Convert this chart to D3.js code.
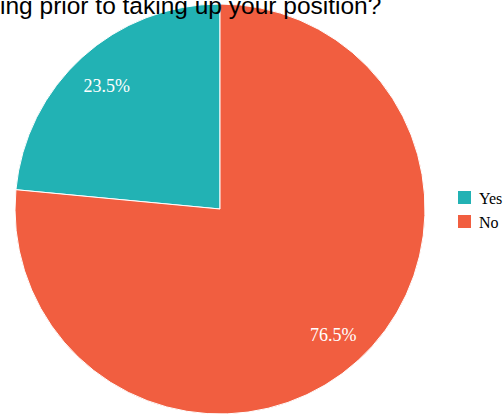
<!DOCTYPE html>
<html>
<head>
<meta charset="utf-8">
<script src="https://cdn.jsdelivr.net/npm/d3@7"></script>
<style>
  html, body { margin: 0; padding: 0; background: #fff; overflow: hidden; }
</style>
</head>
<body>
<svg id="chart" width="503" height="414"></svg>
<script>
const categories = ["Yes", "No"];
const values = [23.5, 76.5];
const titleText = "ing prior to taking up your position?";

const svg = d3.select("#chart");
const cx = 220, cy = 209, radius = 205;

const color = d3.scaleOrdinal()
    .domain(categories)
    .range(["#22b2b4", "#f15e40"]);

const data = categories.map((c, i) => ({ name: c, value: values[i] }));

// counter-clockwise from 12 o'clock, like the original
const pie = d3.pie()
    .sort(null)
    .value(d => d.value)
    .startAngle(0)
    .endAngle(-2 * Math.PI);

const arc = d3.arc().innerRadius(0).outerRadius(radius);
const labelArc = d3.arc().innerRadius(radius * 0.82).outerRadius(radius * 0.82);

const g = svg.append("g").attr("transform", `translate(${cx},${cy})`);

g.selectAll("path")
    .data(pie(data))
    .enter()
    .append("path")
    .attr("d", arc)
    .attr("fill", d => color(d.data.name))
    .attr("stroke", "#fff")
    .attr("stroke-width", 1);

g.selectAll("text")
    .data(pie(data))
    .enter()
    .append("text")
    .attr("transform", d => `translate(${labelArc.centroid(d)})`)
    .attr("dy", "0.4em")
    .attr("text-anchor", "middle")
    .attr("fill", "#fff")
    .style("font-family", "'Liberation Serif', 'DejaVu Serif', serif")
    .style("font-size", "18px")
    .text(d => d.data.value.toFixed(1) + "%");

// legend
const legend = svg.append("g").attr("transform", "translate(458,191)");
const item = legend.selectAll("g")
    .data(categories)
    .enter()
    .append("g")
    .attr("transform", (d, i) => `translate(0,${i * 24})`);

item.append("rect")
    .attr("width", 13)
    .attr("height", 13)
    .attr("fill", d => color(d));

item.append("text")
    .attr("x", 21)
    .attr("y", 7)
    .attr("dy", "0.35em")
    .style("font-family", "'Liberation Serif', 'DejaVu Serif', serif")
    .style("font-size", "16px")
    .attr("fill", "#000")
    .text(d => d);

// title (cut off at the left edge in the original)
svg.append("text")
    .attr("x", 0)
    .attr("y", 14)
    .style("font-family", "'Liberation Sans', Arial, sans-serif")
    .style("font-size", "24.5px")
    .attr("fill", "#000")
    .text(titleText);
</script>
</body>
</html>
